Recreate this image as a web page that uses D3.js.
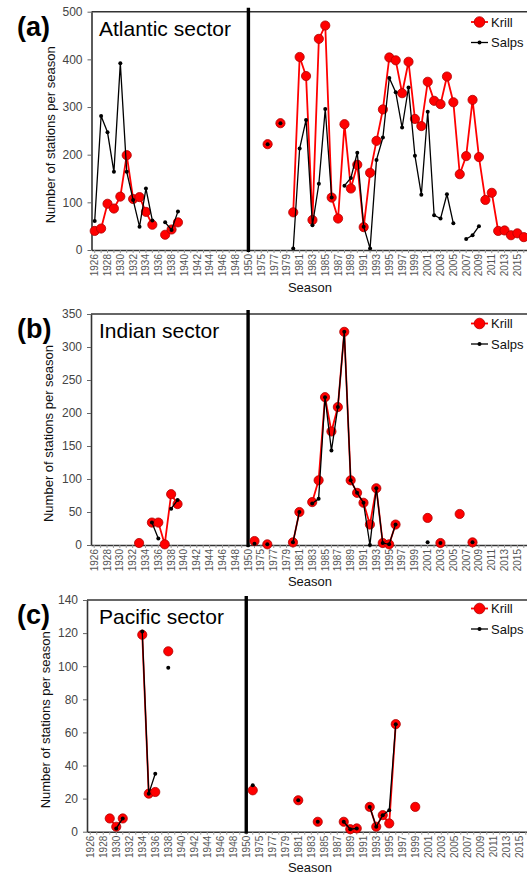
<!DOCTYPE html>
<html>
<head>
<meta charset="utf-8">
<script src="https://cdn.jsdelivr.net/npm/d3@7"></script>
<style>
  html, body { margin: 0; padding: 0; background: #fff; }
  svg { display: block; font-family: "Liberation Sans", Arial, sans-serif; }
</style>
</head>
<body>
<svg id="chart" width="527" height="876"></svg>
<script>
// ---------------- DATA ----------------
const seasons = ["1926","1927","1928","1929","1930","1931","1932","1933","1934","1935","1936","1937","1938",
  "1939","1940","1941","1942","1943","1944","1945","1946","1947","1948","1949","1950",
  "1974","1975","1976","1977","1978","1979","1980","1981","1982","1983","1984","1985","1986","1987","1988",
  "1989","1990","1991","1992","1993","1994","1995","1996","1997","1998","1999","2000","2001","2002","2003",
  "2004","2005","2006","2007","2008","2009","2010","2011","2012","2013","2014","2015","2016"];
const breakSeason = "1950";

const atlanticKrill = [["1926",40],["1927",45],["1928",97],["1929",87],["1930",112],["1931",199],["1932",107],
  ["1933",111],["1934",80],["1935",53],["1937",32],["1938",43],["1939",58],
  ["1976",222],["1978",266],["1980",79],["1981",405],["1982",365],["1983",63],["1984",443],["1985",471],
  ["1986",110],["1987",66],["1988",264],["1989",129],["1990",179],["1991",48],["1992",162],["1993",229],
  ["1994",295],["1995",404],["1996",398],["1997",329],["1998",395],["1999",275],["2000",260],["2001",353],
  ["2002",313],["2003",306],["2004",364],["2005",310],["2006",159],["2007",197],["2008",315],["2009",195],
  ["2010",105],["2011",120],["2012",40],["2013",41],["2014",31],["2015",35],["2016",27]];
const atlanticSalps = [["1926",61],["1927",281],["1928",247],["1929",164],["1930",392],["1931",164],["1932",105],
  ["1933",49],["1934",129],["1935",62],["1937",58],["1938",42],["1939",81],
  ["1976",222],["1978",266],["1980",3],["1981",213],["1982",273],["1983",52],["1984",139],["1985",296],
  ["1986",110],["1988",135],["1989",151],["1990",204],["1991",49],["1992",3],["1993",189],["1994",236],
  ["1995",361],["1996",331],["1997",257],["1998",341],["1999",198],["2000",116],["2001",290],["2002",73],
  ["2003",66],["2004",117],["2005",56],["2007",23],["2008",31],["2009",50]];

const indianKrill = [["1933",3],["1935",34],["1936",34],["1937",1],["1938",77],["1939",62],
  ["1974",6],["1976",1],["1980",4],["1981",50],["1983",65],["1984",98],["1985",224],["1986",172],["1987",209],
  ["1988",323],["1989",98],["1990",79],["1991",64],["1992",31],["1993",86],["1994",3],["1995",1],["1996",31],
  ["2001",41],["2003",3],["2006",47],["2008",4]];
const indianSalps = [["1935",34],["1936",10],["1938",55],["1939",68],
  ["1974",2],["1976",1],["1980",4],["1981",50],["1983",63],["1984",70],["1985",224],["1986",143],["1987",209],
  ["1988",323],["1989",98],["1990",79],["1991",64],["1992",0],["1993",86],["1994",3],["1995",1],["1996",31],
  ["2001",4],["2003",3],["2008",4]];

const pacificKrill = [["1929",8],["1930",3],["1931",8],["1934",119],["1935",23],["1936",24],["1938",109],
  ["1974",25],["1981",19],["1984",6],["1988",6],["1989",1.5],["1990",2],["1992",15],["1993",3],["1994",10],
  ["1995",5],["1996",65],["1999",15]];
const pacificSalps = [["1930",2],["1931",8],["1934",121],["1935",23],["1936",35],["1938",99],
  ["1974",28],["1981",19],["1984",6],["1988",6],["1989",1.5],["1990",2],["1992",15],["1993",3],["1994",10],
  ["1995",13],["1996",65]];

const atlanticTicks = [0,100,200,300,400,500];
const indianTicks = [0,50,100,150,200,250,300,350];
const pacificTicks = [0,20,40,60,80,100,120,140];

const panelLetters = ["(a)","(b)","(c)"];
const sectorNames = ["Atlantic sector","Indian sector","Pacific sector"];
const seriesNames = ["Krill","Salps"];
const yTitle = "Number of stations per season";
const xTitle = "Season";

// ---------------- DRAW ----------------
const svg = d3.select("#chart");
const font = '"Liberation Sans", Arial, sans-serif';

function toFull(pairs) {
  const m = new Map(pairs);
  return seasons.map(s => ({s, v: m.has(s) ? m.get(s) : null}));
}

const panels = [
  {letter: panelLetters[0], name: sectorNames[0], krill: atlanticKrill, salps: atlanticSalps, ticks: atlanticTicks,
   left: 91.5, right: 527, top: 11.7, bottom: 250, yTitleX: 55, legY: 22, seasonY: 292},
  {letter: panelLetters[1], name: sectorNames[1], krill: indianKrill, salps: indianSalps, ticks: indianTicks,
   left: 91, right: 527, top: 314, bottom: 545, yTitleX: 53, legY: 323.5, seasonY: 586},
  {letter: panelLetters[2], name: sectorNames[2], krill: pacificKrill, salps: pacificSalps, ticks: pacificTicks,
   left: 87, right: 529, top: 600, bottom: 831.7, yTitleX: 50, legY: 608.5, seasonY: 872}
];

panels.forEach(p => {
  const g = svg.append("g");
  const x = d3.scaleBand().domain(seasons).range([p.left, p.right]).padding(0);
  const bw = x.bandwidth();
  const cx = s => x(s) + bw / 2;
  const y = d3.scaleLinear().domain([0, d3.max(p.ticks)]).range([p.bottom, p.top]);

  // frame: top and left lines
  g.append("line").attr("x1", p.left).attr("x2", p.right).attr("y1", p.top).attr("y2", p.top)
    .attr("stroke", "#333").attr("stroke-width", 1.6);

  // y axis
  const yAxis = d3.axisLeft(y).tickValues(p.ticks).tickSize(4).tickSizeOuter(0);
  const ya = g.append("g").attr("transform", `translate(${p.left},0)`).call(yAxis);
  ya.select(".domain").attr("stroke", "#333").attr("stroke-width", 1.6);
  ya.selectAll(".tick line").attr("stroke", "#666");
  ya.selectAll(".tick text").attr("font-family", font).attr("font-size", 12).attr("fill", "#444").attr("x", -9);

  // x axis
  const xAxis = d3.axisBottom(x).tickSize(3).tickSizeOuter(0)
    .tickFormat((d, i) => i % 2 === 0 ? d : "");
  const xa = g.append("g").attr("transform", `translate(0,${p.bottom})`).call(xAxis);
  xa.select(".domain").attr("stroke", "#333").attr("stroke-width", 1.6);
  xa.selectAll(".tick line").attr("stroke", "#999");
  xa.selectAll(".tick text")
    .attr("font-family", font).attr("font-size", 10).attr("fill", "#555")
    .attr("transform", "rotate(-90)")
    .attr("text-anchor", "end")
    .attr("x", -4).attr("y", 0).attr("dy", "0.35em");

  // break line at 1950
  g.append("line").attr("x1", cx(breakSeason)).attr("x2", cx(breakSeason))
    .attr("y1", p.top - 4).attr("y2", p.bottom + 2)
    .attr("stroke", "#000").attr("stroke-width", 3.4);

  // y title
  g.append("text")
    .attr("transform", `translate(${p.yTitleX},${(p.top + p.bottom) / 2 + 4}) rotate(-90)`)
    .attr("text-anchor", "middle").attr("font-family", font).attr("font-size", 13).attr("fill", "#111")
    .text(yTitle);

  // x title
  g.append("text").attr("x", 310).attr("y", p.seasonY).attr("text-anchor", "middle")
    .attr("font-family", font).attr("font-size", 13).attr("fill", "#111").text(xTitle);

  // panel letter and name
  g.append("text").attr("x", 17).attr("y", p.top + 24).attr("font-family", font).attr("font-weight", "bold")
    .attr("font-size", 27).attr("fill", "#000").text(p.letter);
  g.append("text").attr("x", 99).attr("y", p.top + 24).attr("font-family", font)
    .attr("font-size", 21).attr("fill", "#000").text(p.name);

  // series
  const line = d3.line().defined(d => d.v != null).x(d => cx(d.s)).y(d => y(d.v));
  const kr = toFull(p.krill), sa = toFull(p.salps);

  g.append("path").datum(kr).attr("d", line).attr("fill", "none").attr("stroke", "#f00").attr("stroke-width", 1.8);
  g.append("g").selectAll("circle").data(kr.filter(d => d.v != null)).join("circle")
    .attr("cx", d => cx(d.s)).attr("cy", d => y(d.v)).attr("r", 4.6)
    .attr("fill", "#f00").attr("stroke", "#b00000").attr("stroke-width", 0.8);

  g.append("path").datum(sa).attr("d", line).attr("fill", "none").attr("stroke", "#000").attr("stroke-width", 1.3);
  g.append("g").selectAll("circle").data(sa.filter(d => d.v != null)).join("circle")
    .attr("cx", d => cx(d.s)).attr("cy", d => y(d.v)).attr("r", 2)
    .attr("fill", "#000");

  // legend
  const lx1 = 471, lx2 = 488, lmid = (lx1 + lx2) / 2;
  const leg = g.append("g");
  leg.append("line").attr("x1", lx1).attr("x2", lx2).attr("y1", p.legY).attr("y2", p.legY)
    .attr("stroke", "#f00").attr("stroke-width", 1.8);
  leg.append("circle").attr("cx", lmid).attr("cy", p.legY).attr("r", 5.3)
    .attr("fill", "#f00").attr("stroke", "#b00000").attr("stroke-width", 0.8);
  leg.append("text").attr("x", 491).attr("y", p.legY + 4.5).attr("font-family", font).attr("font-size", 13)
    .attr("fill", "#111").text(seriesNames[0]);
  const ly2 = p.legY + 20.5;
  leg.append("line").attr("x1", lx1).attr("x2", lx2).attr("y1", ly2).attr("y2", ly2)
    .attr("stroke", "#000").attr("stroke-width", 1.3);
  leg.append("circle").attr("cx", lmid).attr("cy", ly2).attr("r", 2).attr("fill", "#000");
  leg.append("text").attr("x", 491).attr("y", ly2 + 4.5).attr("font-family", font).attr("font-size", 13)
    .attr("fill", "#111").text(seriesNames[1]);
});
</script>
</body>
</html>
